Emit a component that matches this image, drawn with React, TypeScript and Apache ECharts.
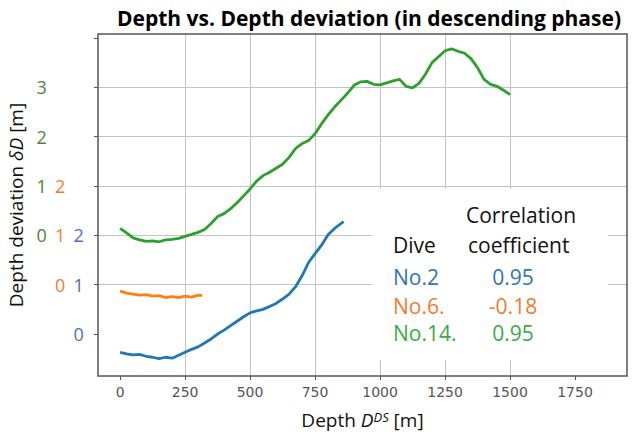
import React, { useEffect, useRef } from 'react';
import * as echarts from 'echarts';

// ---- Data (depth [m] vs depth deviation [m]) ----
const depthNo2 = [0, 25, 50, 75, 100, 125, 150, 175, 200, 225, 250, 275, 300, 325, 350, 375, 400, 425, 450, 475, 500, 525, 550, 575, 600, 625, 650, 675, 700, 725, 750, 775, 800, 825, 850, 860];
const devNo2 = [-0.37, -0.40, -0.42, -0.41, -0.45, -0.47, -0.50, -0.47, -0.49, -0.43, -0.37, -0.31, -0.26, -0.18, -0.10, 0.00, 0.08, 0.17, 0.26, 0.35, 0.43, 0.47, 0.50, 0.56, 0.62, 0.71, 0.81, 0.96, 1.18, 1.45, 1.63, 1.80, 2.01, 2.14, 2.24, 2.28];

const depthNo6 = [0, 25, 50, 75, 100, 125, 150, 175, 200, 225, 250, 275, 300, 315];
const devNo6 = [-0.13, -0.17, -0.19, -0.21, -0.20, -0.23, -0.22, -0.26, -0.24, -0.26, -0.23, -0.25, -0.21, -0.22];

const depthNo14 = [0, 25, 50, 75, 100, 125, 150, 175, 200, 225, 250, 275, 300, 325, 350, 375, 400, 425, 450, 475, 500, 525, 550, 575, 600, 625, 650, 675, 700, 725, 750, 775, 800, 825, 850, 875, 900, 925, 950, 975, 1000, 1025, 1050, 1075, 1100, 1125, 1150, 1175, 1200, 1225, 1250, 1275, 1300, 1325, 1350, 1375, 1400, 1425, 1450, 1475, 1500];
const devNo14 = [0.14, 0.05, -0.05, -0.09, -0.12, -0.11, -0.13, -0.09, -0.08, -0.06, -0.02, 0.02, 0.06, 0.12, 0.24, 0.38, 0.44, 0.54, 0.66, 0.80, 0.94, 1.10, 1.21, 1.28, 1.36, 1.44, 1.58, 1.76, 1.86, 1.92, 2.06, 2.26, 2.44, 2.60, 2.74, 2.88, 3.04, 3.11, 3.12, 3.06, 3.05, 3.09, 3.13, 3.16, 3.02, 2.99, 3.08, 3.27, 3.50, 3.62, 3.74, 3.78, 3.73, 3.69, 3.58, 3.40, 3.16, 3.06, 3.02, 2.94, 2.85];

// vertical offsets used to stack the three curves
const offsetNo2 = 0;
const offsetNo6 = 1;
const offsetNo14 = 2;

// tick labels of each stacked scale
const tickLabelsNo2 = ['0', '1', '2'];
const tickLabelsNo6 = ['0', '1', '2'];
const tickLabelsNo14 = ['0', '1', '2', '3'];

const xTicks = [0, 250, 500, 750, 1000, 1250, 1500, 1750];
const yTicks = [0, 1, 2, 3, 4, 5, 6];

const diveNames = ['No.2', 'No.6.', 'No.14.'];
const corrCoefs = ['0.95', '-0.18', '0.95'];

const C_BLUE = '#1f77b4';
const C_ORANGE = '#ff7f0e';
const C_GREEN = '#2ca02c';

const FONT = '"Open Sans", "Noto Sans", sans-serif';

function build(depth: number[], dev: number[], off: number) {
  return depth.map((d, i) => [d, dev[i] + off]);
}

function yLabel(v: number): string {
  const k = Math.round(v);
  const cols: (string | null)[] = [
    tickLabelsNo14[k - offsetNo14] ?? null,
    tickLabelsNo6[k - offsetNo6] ?? null,
    tickLabelsNo2[k - offsetNo2] ?? null,
  ];
  const first = cols.findIndex((c) => c !== null);
  if (first < 0) return '';
  const keys = ['g', 'o', 'b'];
  let s = '';
  for (let i = first; i < 3; i++) {
    s += cols[i] !== null ? `{${keys[i]}|${cols[i]}}` : '{s|}';
  }
  return s;
}

export default function App() {
  const ref = useRef<HTMLDivElement>(null);
  useEffect(() => {
    const chart = echarts.init(ref.current!, null, { renderer: 'svg' });
    const xMin = -85, xMax = 1950, yMin = -0.85, yMax = 6.08;
    const labelCol = (color: string) => ({ color, fontSize: 18, fontFamily: FONT, width: 18.5, align: 'center' });
    const annText = (text: string, x: number, y: number, fill: string, align = 'left') => ({
      type: 'text',
      x, y,
      z: 10,
      style: { text, fill, fontSize: 21, fontFamily: FONT, align, verticalAlign: 'middle' },
    });
    const rowY = [277, 306, 333];
    const rowColors = ['#2e75b6', '#ed7d31', '#3aaa48'];
    const graphics: any[] = [
      { type: 'rect', shape: { x: 372, y: 189, width: 236, height: 171 }, style: { fill: '#fff' }, z: 9 },
      annText('Correlation', 466, 215, '#111'),
      annText('Dive', 393, 245, '#111'),
      annText('coefficient', 468, 245, '#111'),
    ];
    diveNames.forEach((n, i) => {
      graphics.push(annText(n, 393, rowY[i], rowColors[i]));
      graphics.push(annText(corrCoefs[i], 513, rowY[i], rowColors[i], 'center'));
    });

    chart.setOption({
      animation: false,
      backgroundColor: '#fff',
      title: {
        text: 'Depth vs. Depth deviation (in descending phase)',
        left: 364,
        textAlign: 'center',
        top: 2,
        textStyle: { fontFamily: FONT, fontWeight: 'bold', fontSize: 21, color: '#000' },
      },
      grid: { left: 98, right: 9, top: 34, bottom: 61, containLabel: false, outerBoundsMode: 'none' },
      xAxis: {
        type: 'value',
        min: xMin,
        max: xMax,
        minInterval: 250,
        maxInterval: 250,
        splitNumber: 8,
        axisLine: { show: false, onZero: false },
        axisTick: { show: true, length: 4, customValues: xTicks, lineStyle: { color: '#555' } },
        axisLabel: {
          customValues: xTicks,
          color: '#555',
          fontSize: 14,
          fontFamily: '"DejaVu Sans", sans-serif',
          margin: 9,
          formatter: (v: number) => String(v),
        },
        splitLine: { show: true, showMinLine: false, showMaxLine: false, lineStyle: { color: '#c4c4c4', width: 1 } },
        name: 'Depth {i|D}{sup|DS} [m]',
        nameLocation: 'middle',
        nameGap: 34,
        nameTextStyle: {
          color: '#111',
          fontSize: 19,
          fontFamily: FONT,
          rich: {
            i: { fontSize: 19, fontStyle: 'italic', fontFamily: FONT, color: '#111' },
            sup: { fontSize: 13, fontStyle: 'italic', fontFamily: FONT, color: '#111', verticalAlign: 'top', lineHeight: 13 },
          },
        },
      },
      yAxis: {
        type: 'value',
        min: yMin,
        max: yMax,
        minInterval: 1,
        maxInterval: 1,
        splitNumber: 7,
        axisLine: { show: false, onZero: false },
        axisTick: { show: true, length: 4, customValues: yTicks, lineStyle: { color: '#555' } },
        axisLabel: {
          customValues: yTicks,
          margin: 10,
          formatter: yLabel,
          rich: {
            g: labelCol('#548235'),
            o: labelCol('#ed7d31'),
            b: labelCol('#4472c4'),
            s: { width: 18.5, fontSize: 18, align: 'center' },
          },
        },
        splitLine: { show: true, showMinLine: false, showMaxLine: false, lineStyle: { color: '#c4c4c4', width: 1 } },
        name: 'Depth deviation {i|δD} [m]',
        nameLocation: 'middle',
        nameGap: 64,
        nameTextStyle: {
          color: '#111',
          fontSize: 19,
          fontFamily: FONT,
          rich: { i: { fontSize: 19, fontStyle: 'italic', fontFamily: FONT, color: '#111' } },
        },
      },
      series: [
        { name: 'No.2', type: 'line', data: build(depthNo2, devNo2, offsetNo2), showSymbol: false, lineStyle: { color: C_BLUE, width: 2.8 }, itemStyle: { color: C_BLUE } },
        { name: 'No.6', type: 'line', data: build(depthNo6, devNo6, offsetNo6), showSymbol: false, lineStyle: { color: C_ORANGE, width: 2.8 }, itemStyle: { color: C_ORANGE } },
        { name: 'No.14', type: 'line', data: build(depthNo14, devNo14, offsetNo14), showSymbol: false, lineStyle: { color: C_GREEN, width: 2.8 }, itemStyle: { color: C_GREEN } },
      ],
      graphic: graphics,
    });

    // plot frame, placed through the axes' own scales
    const tl = chart.convertToPixel({ xAxisIndex: 0, yAxisIndex: 0 }, [xMin, yMax]) as number[];
    const br = chart.convertToPixel({ xAxisIndex: 0, yAxisIndex: 0 }, [xMax, yMin]) as number[];
    if (tl && br) {
      chart.setOption({
        graphic: [
          ...graphics,
          {
            type: 'rect',
            z: 8,
            silent: true,
            shape: { x: tl[0], y: tl[1], width: br[0] - tl[0], height: br[1] - tl[1] },
            style: { fill: 'none', stroke: '#555', lineWidth: 1.5 },
          },
        ],
      });
    }
    return () => chart.dispose();
  }, []);
  return <div ref={ref} style={{ width: 636, height: 437, position: 'absolute', left: 0, top: 0 }} />;
}
